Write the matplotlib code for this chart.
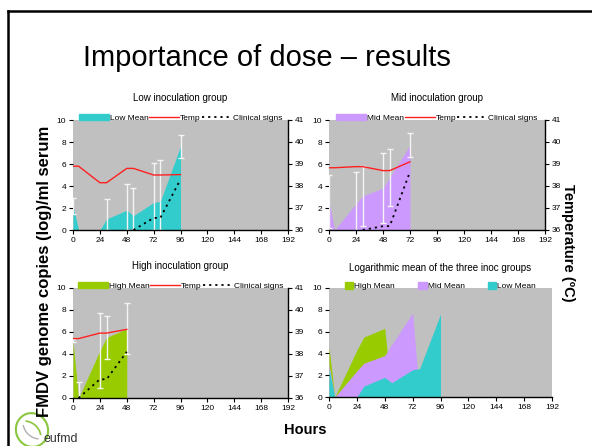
"""Importance of dose - viraemia, temperature and clinical signs by group."""

import matplotlib.pyplot as plt
from matplotlib.lines import Line2D
from matplotlib.patches import Patch, Ellipse, Arc
import numpy as np

plt.rcParams["font.family"] = ["Liberation Sans", "DejaVu Sans"]

# sampling times (hours post inoculation)
low_t = [0, 5, 24, 30, 48, 54, 72, 78, 96]
mid_t = [0, 5, 24, 30, 48, 54, 72]
high_t = [0, 5, 24, 30, 48]

# mean viraemia (log copies / ml serum) and standard deviations
low_mean = [2.2, 0, 0, 1.0, 1.8, 1.3, 2.5, 2.6, 7.6]
low_sd = [0.7, 0, 0, 1.85, 2.4, 2.5, 3.6, 3.75, 1.05]
mid_mean = [2.6, 0, 2.4, 3.1, 3.8, 4.8, 7.7]
mid_sd = [2.4, 0, 2.9, 2.7, 3.2, 2.6, 1.1]
high_mean = [5.2, 0, 4.3, 5.5, 6.3]
high_sd = [0.15, 1.5, 3.4, 1.95, 2.3]

# temperature (deg C)
low_temp = [38.9, 38.9, 38.15, 38.15, 38.8, 38.8, 38.5, 38.5, 38.52]
mid_temp = [38.83, 38.83, 38.88, 38.88, 38.7, 38.7, 39.1]
high_temp = [38.7, 38.7, 38.95, 38.95, 39.12]

# clinical signs score
low_clin_t = [54, 72, 78, 96]
low_clin = [0, 1.1, 1.1, 4.6]
mid_clin_t = [30, 48, 54, 72]
mid_clin = [0, 0.35, 0.35, 5.3]
high_clin_t = [5, 24, 30, 48]
high_clin = [0, 1.7, 1.7, 4.2]

# logarithmic means for the combined panel
log_high_t = [0, 5, 24, 30, 48, 54]
log_high = [4.6, 0, 4.3, 5.5, 6.3, 0]
log_mid_t = [0, 5, 24, 30, 48, 54, 72, 78]
log_mid = [3.0, 0, 2.4, 3.1, 3.8, 4.8, 7.7, 0]
log_low_t = [0, 5, 24, 30, 48, 54, 72, 78, 96, 96]
log_low = [2.6, 0, 0, 1.0, 1.8, 1.3, 2.5, 2.6, 7.6, 0]

hour_ticks = list(range(0, 193, 24))

CYAN = "#33CCCC"
PURPLE = "#CC99FF"
GREEN = "#99CC00"
RED = "#FF2020"
BG = "#C0C0C0"
W, H = 592, 446


def px_axes(fig, left, top, right, bottom):
    return fig.add_axes([left / W, 1 - bottom / H, (right - left) / W, (bottom - top) / H])


def style_axes(ax):
    ax.set_facecolor(BG)
    ax.set_xlim(0, 192)
    ax.set_ylim(0, 10)
    ax.set_xticks(hour_ticks)
    ax.set_yticks(range(0, 11, 2))
    ax.tick_params(labelsize=6, length=3, width=0.8, pad=2)
    for s in ["top", "left", "right"]:
        ax.spines[s].set_visible(False)
    ax.spines["bottom"].set_linewidth(1)


def group_panel(ax, name, color, t, mean, sd, temp, ct, clin):
    style_axes(ax)
    ax.fill_between(t, mean, 0, color=color, lw=0)
    t = np.array(t)
    mean = np.array(mean)
    sd = np.array(sd)
    m = sd > 0
    lo = np.minimum(sd[m], mean[m])
    ax.errorbar(t[m], mean[m], yerr=[lo, sd[m]], fmt="none", ecolor="#F4F4F4",
                elinewidth=1, capsize=2.5, capthick=1)
    ax.plot(ct, clin, color="black", ls=(0, (1.2, 2.2)), lw=1.3)
    tx = ax.twinx()
    tx.set_ylim(36, 41)
    tx.set_yticks(range(36, 42))
    tx.plot(t, temp, color=RED, lw=1)
    tx.tick_params(labelsize=6, length=3, width=0.8, pad=2)
    for s in ["top", "left", "bottom"]:
        tx.spines[s].set_visible(False)
    tx.spines["right"].set_linewidth(1)
    ax.set_title(f"{name} inoculation group", fontsize=7, pad=14)
    handles = [
        Patch(color=color, label=f"{name} Mean"),
        Line2D([], [], color=RED, lw=1, label="Temp"),
        Line2D([], [], color="black", ls=(0, (1.2, 2.2)), lw=1.3, label="Clinical signs"),
    ]
    ax.legend(handles=handles, ncol=3, loc="lower center", bbox_to_anchor=(0.5, 0.98),
              frameon=False, fontsize=6, handlelength=3.6, handleheight=0.7,
              handletextpad=0.1, columnspacing=0.1, borderaxespad=0, borderpad=0)


fig = plt.figure(figsize=(W / 100, H / 100), dpi=100)

ax1 = px_axes(fig, 73, 120, 288, 230)
group_panel(ax1, "Low", CYAN, low_t, low_mean, low_sd, low_temp, low_clin_t, low_clin)
ax2 = px_axes(fig, 329, 120, 545, 230)
group_panel(ax2, "Mid", PURPLE, mid_t, mid_mean, mid_sd, mid_temp, mid_clin_t, mid_clin)
ax3 = px_axes(fig, 73, 288, 288, 398)
group_panel(ax3, "High", GREEN, high_t, high_mean, high_sd, high_temp, high_clin_t, high_clin)

ax4 = px_axes(fig, 329, 288, 552, 397)
style_axes(ax4)
ax4.fill_between(log_high_t, log_high, 0, color=GREEN, lw=0)
ax4.fill_between(log_mid_t, log_mid, 0, color=PURPLE, lw=0)
ax4.fill_between(log_low_t, log_low, 0, color=CYAN, lw=0)
ax4.set_title("Logarithmic mean of the three inoc groups", fontsize=7, pad=12)
ax4.legend(handles=[Patch(color=GREEN, label="High Mean"),
                    Patch(color=PURPLE, label="Mid Mean"),
                    Patch(color=CYAN, label="Low Mean")],
           ncol=3, loc="lower center", bbox_to_anchor=(0.5, 0.98), frameon=False,
           fontsize=6, handlelength=1.0, handleheight=1.0, handletextpad=0.1,
           columnspacing=2.8, borderaxespad=0, borderpad=0)

# slide text
fig.text(267 / W, 1 - 58 / H, "Importance of dose \u2013 results", ha="center", va="center",
         fontsize=21, family=["Liberation Sans Narrow", "Liberation Sans", "DejaVu Sans"])
fig.text(45 / W, 1 - 271 / H, "FMDV genome copies (log)/ml serum", rotation=90,
         ha="center", va="center", fontsize=12, fontweight="bold")
fig.text(568 / W, 1 - 243 / H, "Temperature (\u00baC)", rotation=-90,
         ha="center", va="center", fontsize=10.5, fontweight="bold")
fig.text(305 / W, 1 - 430 / H, "Hours", ha="center", va="center", fontsize=10.5,
         fontweight="bold")

# slide frame
fig.add_artist(Line2D([8 / W, 1], [1 - 11 / H] * 2, color="black", lw=1.8))
fig.add_artist(Line2D([8 / W] * 2, [0, 1 - 11 / H], color="black", lw=1.8))

# rough logo (pixel coordinates, cropped at the bottom edge)
logo = fig.add_axes([0, 0, 90 / W, 46 / H])
logo.set_xlim(0, 90)
logo.set_ylim(0, 46)
logo.axis("off")
logo.add_patch(Ellipse((32, 16), 32, 34, angle=20, fill=False, ec="#8CC63F", lw=1.5))
logo.add_patch(Arc((24, 8), 34, 34, theta1=10, theta2=85, ec="#8CC63F", lw=1.2))
logo.add_patch(Arc((40, 24), 34, 34, theta1=190, theta2=265, ec="#B0B0B0", lw=1))
logo.text(61, 1, "eufmd", fontsize=9, color="#333333", ha="center", va="bottom")

fig.savefig("out.png", dpi=100)
